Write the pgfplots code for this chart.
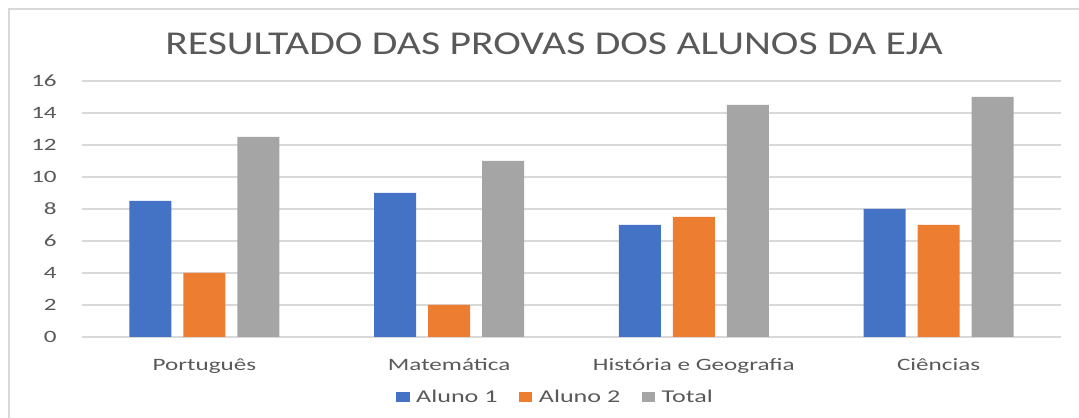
\documentclass[border=0pt]{standalone}
\usepackage{pgfplots}
\pgfplotsset{compat=1.18}
\usepackage{fontspec}
\setmainfont{Carlito}
\newfontfamily\widefont[FakeStretch=1.45]{Carlito}
\newfontfamily\titlefont[FakeStretch=1.25]{Carlito}
\definecolor{cblue}{HTML}{4472C4}
\definecolor{corange}{HTML}{ED7D31}
\definecolor{cgray}{HTML}{A5A5A5}
\definecolor{cgrid}{HTML}{D9D9D9}
\definecolor{ctext}{HTML}{595959}
\begin{document}
\begin{tikzpicture}
\useasboundingbox (0pt,0pt) rectangle (809.25pt,313.5pt);
\draw[cgrid, line width=1.5pt] (6.75pt,-20pt) -- (6.75pt,306.75pt) -- (830pt,306.75pt);
\node[text=ctext, font=\titlefont\fontsize{25}{28}\selectfont, inner sep=0pt] at (415.5pt,280.5pt) {RESULTADO DAS PROVAS DOS ALUNOS DA EJA};
\begin{axis}[
  at={(61.5pt,60.75pt)}, anchor=south west,
  width=734.25pt, height=192pt, scale only axis,
  ybar=9pt, bar width=31.5pt,
  xmin=-0.5, xmax=3.5, ymin=0, ymax=16,
  xtick={0,1,2,3},
  xticklabels={Português, Matemática, História e Geografia, Ciências},
  ytick={0,2,...,16},
  ymajorgrids, grid style={cgrid, line width=0.8pt},
  axis line style={draw=none},
  tick style={draw=none},
  ticklabel style={text=ctext, font=\widefont\fontsize{13}{15}\selectfont},
  /pgf/number format/assume math mode=true,
  yticklabel style={anchor=east, inner sep=0pt, xshift=-18.75pt},
  xticklabel style={anchor=base, inner sep=0pt, yshift=-21pt},
  legend style={at={(0.484,-0.234)}, anchor=center, draw=none, fill=none, legend columns=3,
    font=\widefont\fontsize{13.5}{15}\selectfont, text=ctext,
    /tikz/every odd column/.append style={column sep=3pt},
    /tikz/every even column/.append style={column sep=14pt}},
  legend image code/.code={\fill[#1] (0pt,-3.5pt) rectangle (10pt,3.5pt);},
]
\addplot[fill=cblue, draw=none] coordinates {(0,8.5) (1,9) (2,7) (3,8)};
\addplot[fill=corange, draw=none] coordinates {(0,4) (1,2) (2,7.5) (3,7)};
\addplot[fill=cgray, draw=none] coordinates {(0,12.5) (1,11) (2,14.5) (3,15)};
\legend{Aluno 1, Aluno 2, Total}
\end{axis}
\end{tikzpicture}
\end{document}
